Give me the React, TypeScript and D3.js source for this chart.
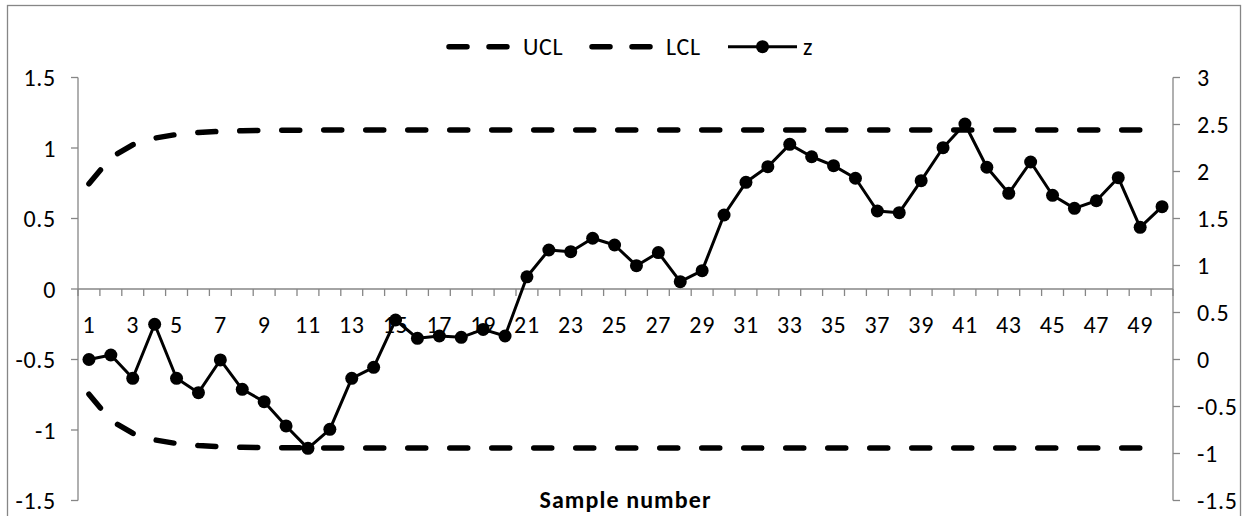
import React from "react";
import * as d3 from "d3";

const categories: number[] = d3.range(1, 51);
const xTickLabels: number[] = d3.range(1, 51, 2);
const leftTicks: number[] = [-1.5, -1, -0.5, 0, 0.5, 1, 1.5];
const rightTicks: number[] = [-1.5, -1, -0.5, 0, 0.5, 1, 1.5, 2, 2.5, 3];

const ucl: number[] = [
  0.746, 0.933, 1.023, 1.07, 1.096, 1.11, 1.118, 1.122, 1.125, 1.126,
  1.127, 1.128, 1.128, 1.128, 1.128, 1.128, 1.128, 1.128, 1.128, 1.128,
  1.128, 1.128, 1.128, 1.128, 1.128, 1.128, 1.128, 1.128, 1.128, 1.128,
  1.128, 1.128, 1.128, 1.128, 1.128, 1.128, 1.128, 1.128, 1.128, 1.128,
  1.128, 1.128, 1.128, 1.128, 1.128, 1.128, 1.128, 1.128, 1.128, 1.128,
];
const lcl: number[] = [
  -0.746, -0.933, -1.023, -1.07, -1.096, -1.11, -1.118, -1.122, -1.125, -1.126,
  -1.127, -1.128, -1.128, -1.128, -1.128, -1.128, -1.128, -1.128, -1.128, -1.128,
  -1.128, -1.128, -1.128, -1.128, -1.128, -1.128, -1.128, -1.128, -1.128, -1.128,
  -1.128, -1.128, -1.128, -1.128, -1.128, -1.128, -1.128, -1.128, -1.128, -1.128,
  -1.128, -1.128, -1.128, -1.128, -1.128, -1.128, -1.128, -1.128, -1.128, -1.128,
];
const z: number[] = [
  0.0, 0.048, -0.2, 0.375, -0.2, -0.353, -0.005, -0.317, -0.449, -0.707,
  -0.945, -0.743, -0.2, -0.083, 0.42, 0.225, 0.25, 0.236, 0.32, 0.25,
  0.88, 1.165, 1.147, 1.29, 1.218, 0.998, 1.137, 0.828, 0.945, 1.537,
  1.885, 2.051, 2.289, 2.157, 2.062, 1.928, 1.58, 1.562, 1.902, 2.253,
  2.505, 2.045, 1.768, 2.101, 1.747, 1.608, 1.689, 1.934, 1.406, 1.626,
];

const W = 1247;
const H = 516;
const PL = 78;
const PR = 1173;
const PT = 77.5;
const PB = 500.5;
const AXIS = "#868686";
const FONT = "Carlito, Calibri, Lato, sans-serif";
const FS = 24;
const LS = 0.7;

export default function App() {
  const x = d3.scaleBand<number>().domain(categories).range([PL, PR]).padding(0);
  const bw = x.bandwidth();
  const cx = (c: number) => (x(c) as number) + bw / 2;
  const yL = d3.scaleLinear().domain([-1.5, 1.5]).range([PB, PT]);
  const yR = d3.scaleLinear().domain([-1.5, 3]).range([PB, PT]);

  const lineL = d3
    .line<number>()
    .x((_, i) => cx(categories[i]))
    .y((d) => yL(d));
  const lineR = d3
    .line<number>()
    .x((_, i) => cx(categories[i]))
    .y((d) => yR(d));

  const y0 = yL(0);
  const boundaries = d3.range(0, categories.length + 1).map((i) => PL + i * bw);

  return (
    <svg
      width={W}
      height={H}
      style={{ position: "absolute", left: 0, top: 0, background: "#fff" }}
      fontFamily={FONT}
    >
      <rect x={0} y={0} width={W} height={H} fill="#fff" />
      <rect x={7.5} y={5.5} width={1233} height={520} fill="none" stroke={AXIS} strokeWidth={1.3} />

      {/* left axis */}
      <line x1={PL} x2={PL} y1={PT} y2={PB} stroke={AXIS} strokeWidth={1.3} />
      {leftTicks.map((t) => (
        <g key={"l" + t}>
          <line x1={PL - 7} x2={PL} y1={yL(t)} y2={yL(t)} stroke={AXIS} strokeWidth={1.3} />
          <text x={56} y={yL(t) + 8.5} textAnchor="end" fontSize={FS} letterSpacing={LS} fill="#000">
            {t}
          </text>
        </g>
      ))}

      {/* right axis */}
      <line x1={PR} x2={PR} y1={PT} y2={PB} stroke={AXIS} strokeWidth={1.3} />
      {rightTicks.map((t) => (
        <g key={"r" + t}>
          <line x1={PR} x2={PR + 7} y1={yR(t)} y2={yR(t)} stroke={AXIS} strokeWidth={1.3} />
          <text x={1197} y={yR(t) + 8.5} textAnchor="start" fontSize={FS} letterSpacing={LS} fill="#000">
            {t}
          </text>
        </g>
      ))}

      {/* x axis */}
      <line x1={PL} x2={PR} y1={y0} y2={y0} stroke={AXIS} strokeWidth={1.3} />
      {boundaries.map((b, i) => (
        <line key={"b" + i} x1={b} x2={b} y1={y0} y2={y0 + 7} stroke={AXIS} strokeWidth={1.3} />
      ))}
      {xTickLabels.map((c) => (
        <text key={"x" + c} x={cx(c)} y={332.5} textAnchor="middle" fontSize={FS} letterSpacing={LS} fill="#000">
          {c}
        </text>
      ))}

      {/* control limits */}
      <path
        d={lineL(ucl) || ""}
        fill="none"
        stroke="#000"
        strokeWidth={5.5}
        strokeDasharray="18 24"
        strokeLinecap="round"
      />
      <path
        d={lineL(lcl) || ""}
        fill="none"
        stroke="#000"
        strokeWidth={5.5}
        strokeDasharray="18 24"
        strokeLinecap="round"
      />

      {/* z series */}
      <path d={lineR(z) || ""} fill="none" stroke="#000" strokeWidth={3} strokeLinejoin="round" />
      {z.map((v, i) => (
        <circle key={"p" + i} cx={cx(categories[i])} cy={yR(v)} r={6.5} fill="#000" />
      ))}

      {/* axis title */}
      <text x={(PL + PR) / 2} y={507.5} textAnchor="middle" fontSize={FS} fontWeight="bold" letterSpacing={1.1} fill="#000">
        Sample number
      </text>

      {/* legend */}
      <g>
        <line x1={449} x2={507} y1={46.7} y2={46.7} stroke="#000" strokeWidth={5.5} strokeDasharray="18 22" strokeLinecap="round" />
        <text x={523} y={55} fontSize={FS} letterSpacing={LS} fill="#000">UCL</text>
        <line x1={592} x2={650} y1={46.7} y2={46.7} stroke="#000" strokeWidth={5.5} strokeDasharray="18 22" strokeLinecap="round" />
        <text x={666} y={55} fontSize={FS} letterSpacing={LS} fill="#000">LCL</text>
        <line x1={728} x2={797} y1={46.7} y2={46.7} stroke="#000" strokeWidth={3} />
        <circle cx={762.5} cy={46.7} r={6.5} fill="#000" />
        <text x={803} y={55} fontSize={FS} letterSpacing={LS} fill="#000">z</text>
      </g>
    </svg>
  );
}
